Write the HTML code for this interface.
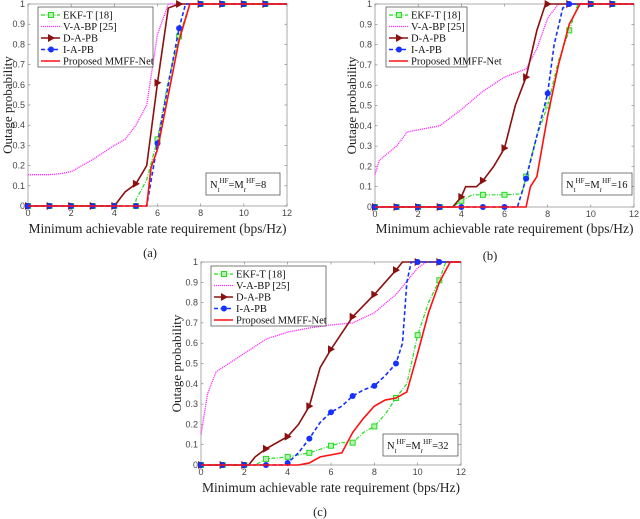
<!DOCTYPE html>
<html><head><meta charset="utf-8">
<style>
body{margin:0;background:#fff;width:640px;height:519px;overflow:hidden}
svg{display:block}
text{font-family:"Liberation Serif",serif}
.tk{font-family:"Liberation Sans",sans-serif;font-size:9px;fill:#444}
</style></head><body>
<svg id="fig" width="640" height="519" viewBox="0 0 640 519"></svg>
<script>
// ---- data ----
const xTicks=[0,2,4,6,8,10,12];
const yTicks=[0,0.1,0.2,0.3,0.4,0.5,0.6,0.7,0.8,0.9,1];
const yTickLabels=["0","0.1","0.2","0.3","0.4","0.5","0.6","0.7","0.8","0.9","1"];
const seriesNames=["EKF-T [18]","V-A-BP [25]","D-A-PB","I-A-PB","Proposed MMFF-Net"];
const markerX=[0,1,2,3,4,5,6,7,8,9,10,11];
const a_ekf=[[0,0],[5,0],[5,0.03],[5.5,0.13],[6,0.33],[6.5,0.62],[7,0.84],[7.5,1],[12,1]];
const a_vabp=[[0,0.155],[1,0.155],[1.5,0.16],[2,0.17],[3,0.23],[4,0.3],[4.5,0.33],[5,0.4],[5.5,0.5],[6,0.85],[6.5,1],[12,1]];
const a_dapb=[[0,0],[4,0],[4.5,0.07],[5,0.11],[5.5,0.2],[6,0.61],[6.5,0.98],[7,1],[12,1]];
const a_iapb=[[0,0],[5.5,0],[6,0.31],[6.5,0.6],[7,0.88],[7.3,1],[12,1]];
const a_mmff=[[0,0],[5.5,0],[5.7,0.19],[6,0.28],[6.5,0.55],[7,0.82],[7.5,1],[12,1]];
const b_ekf=[[0,0],[3.6,0],[4,0.03],[4.5,0.06],[5,0.06],[6,0.06],[6.8,0.065],[7,0.15],[7.5,0.35],[8,0.5],[8.5,0.72],[9,0.87],[9.4,1],[12,1]];
const b_vabp=[[0,0.16],[0.2,0.23],[1,0.3],[1.5,0.37],[2,0.38],[3,0.4],[4,0.48],[5,0.57],[6,0.64],[7,0.68],[7.5,0.78],[8,0.93],[8.5,1],[12,1]];
const b_dapb=[[0,0],[3.6,0],[4,0.05],[4.2,0.1],[4.7,0.1],[5,0.13],[5.5,0.2],[6,0.29],[6.5,0.5],[7,0.64],[7.5,0.87],[7.9,1],[12,1]];
const b_iapb=[[0,0],[6.6,0],[7,0.14],[7.5,0.35],[8,0.56],[8.3,0.8],[8.7,0.98],[9,1],[12,1]];
const b_mmff=[[0,0],[7,0],[7.2,0.1],[7.5,0.15],[8,0.45],[8.5,0.7],[9,0.9],[9.5,1],[12,1]];
const c_ekf=[[0,0],[2.5,0],[3,0.03],[4,0.04],[5,0.06],[6,0.095],[6.5,0.11],[7,0.11],[7.5,0.16],[8,0.19],[8.5,0.25],[9,0.33],[9.5,0.4],[10,0.64],[10.5,0.8],[11,0.91],[11.3,1],[12,1]];
const c_vabp=[[0,0.15],[0.3,0.35],[0.7,0.46],[1,0.48],[2,0.55],[3,0.62],[4,0.655],[5,0.675],[6,0.69],[7,0.7],[8,0.75],[9,0.84],[10,0.97],[10.4,1],[12,1]];
const c_dapb=[[0,0],[2.2,0],[2.5,0.04],[3,0.08],[4,0.14],[4.5,0.2],[5,0.29],[5.5,0.48],[6,0.57],[7,0.73],[8,0.84],[9,0.96],[9.3,1],[12,1]];
const c_iapb=[[0,0],[3.8,0],[4,0.01],[4.5,0.06],[5,0.13],[5.5,0.21],[6,0.26],[6.5,0.29],[7,0.34],[7.5,0.37],[8,0.39],[8.5,0.44],[9,0.5],[9.3,0.6],[9.5,0.9],[9.7,1],[12,1]];
const c_mmff=[[0,0],[4.5,0],[5,0.01],[5.5,0.04],[6,0.05],[6.5,0.06],[7,0.16],[7.5,0.23],[8,0.29],[8.5,0.32],[9,0.33],[9.5,0.36],[10,0.55],[10.5,0.75],[11,0.9],[11.5,1],[12,1]];

const NS="http://www.w3.org/2000/svg";
const svg=document.getElementById('fig');
function mk(t,at,p){const e=document.createElementNS(NS,t);for(const k in at)e.setAttribute(k,at[k]);(p||svg).appendChild(e);return e;}
function interp(s,x){for(let i=1;i<s.length;i++){if(x<=s[i][0]){const a=s[i-1],b=s[i];if(b[0]===a[0])return b[1];return a[1]+(b[1]-a[1])*(x-a[0])/(b[0]-a[0]);}}return s[s.length-1][1];}
const styles=[
 {c:"#22dd22",d:"4,1.5,1,1.5",w:1.2,m:"sq"},
 {c:"#ff33ff",d:"1.2,0.8",w:1.3,m:null},
 {c:"#8b1010",d:"",w:1.6,m:"tri"},
 {c:"#1530ff",d:"4,2.5",w:1.6,m:"cir"},
 {c:"#ff1010",d:"",w:1.6,m:null}];
function marker(g,type,x,y,c){
 if(type==="sq"){const e=mk('rect',{x:x-2.5,y:y-2.5,width:5,height:5,fill:"#b8f0b0",stroke:c,"stroke-width":1},g);}
 else if(type==="tri"){const e=mk('path',{d:`M${x-3},${y-4}L${x+4},${y}L${x-3},${y+4}Z`,fill:c},g);}
 else if(type==="cir"){const e=mk('circle',{cx:x,cy:y,r:3,fill:c},g);}
}
function plot(cfg){
 const {x0,x1,y0,y1,series,id,leg,ann,annText,cap,capY,xtY,ytX}=cfg;
 const sx=v=>x0+(x1-x0)*v/12, sy=v=>y0-(y0-y1)*v;
 const g=mk('g',{});
 
 
 mk('rect',{x:x0,y:y1,width:x1-x0,height:y0-y1,fill:"#fff",stroke:"#888","stroke-width":0.7},g);
 xTicks.forEach(t=>{const X=sx(t);mk('line',{x1:X,y1:y0,x2:X,y2:y0-2.5,stroke:"#777","stroke-width":0.6},g);mk('line',{x1:X,y1:y1,x2:X,y2:y1+2.5,stroke:"#777","stroke-width":0.6},g);
  const tt=mk('text',{x:X,y:y0+10,"text-anchor":"middle",class:"tk"},g);tt.textContent=t;});
 yTicks.forEach((t,i)=>{const Y=sy(t);mk('line',{x1:x0,y1:Y,x2:x0+2.5,y2:Y,stroke:"#777","stroke-width":0.6},g);mk('line',{x1:x1,y1:Y,x2:x1-2.5,y2:Y,stroke:"#777","stroke-width":0.6},g);
  const tt=mk('text',{x:x0-3,y:Y+3,"text-anchor":"end",class:"tk"},g);tt.textContent=yTickLabels[i];});
 series.forEach((s,i)=>{const st=styles[i];
  const p=mk('polyline',{points:s.map(q=>sx(q[0])+","+sy(q[1])).join(" "),fill:"none",stroke:st.c,"stroke-width":st.w,"stroke-dasharray":st.d},g);
  
  
  if(st.m)markerX.forEach(mx=>marker(g,st.m,sx(mx),sy(interp(s,mx)),st.c));});
 const xt=mk('text',{x:(x0+x1)/2,y:xtY,"text-anchor":"middle","font-size":"13.5px",fill:"#222"},g);
 xt.textContent="Minimum achievable rate requirement (bps/Hz)";
 
 const yt=mk('text',{x:0,y:0,"text-anchor":"middle","font-size":"13px",fill:"#222",transform:`translate(${ytX},${(y0+y1)/2}) rotate(-90)`},g);
 yt.textContent="Outage probability";
 
 const lg=mk('g',{},g);
 mk('rect',{x:leg[0],y:leg[1],width:leg[2],height:60,fill:"#fff",stroke:"#444","stroke-width":0.7},lg);
 seriesNames.forEach((n,i)=>{const st=styles[i];const Y=leg[1]+8+i*11.5;const lx=leg[0]+3;
  const le=mk('g',{},lg);
  mk('line',{x1:lx,y1:Y,x2:lx+19,y2:Y,stroke:st.c,"stroke-width":st.w,"stroke-dasharray":st.d},le);
  if(st.m)marker(le,st.m,lx+10,Y,st.c);
  const t=mk('text',{x:lx+22,y:Y+3.5,"font-size":"10.5px",fill:"#111"},le);t.textContent=n;});
 const ab=mk('g',{},g);
 mk('rect',{x:ann[0],y:ann[1],width:ann[2],height:22,fill:"#fff",stroke:"#444","stroke-width":0.7},ab);
 const at=mk('text',{x:ann[0]+4,y:ann[1]+15,"font-size":"10.5px",fill:"#111"},ab);
 at.innerHTML=`N<tspan dy="4" font-size="7">t</tspan><tspan dy="-9" font-size="7">HF</tspan><tspan dy="5">=M</tspan><tspan dy="4" font-size="7">r</tspan><tspan dy="-9" font-size="7">HF</tspan><tspan dy="5">=${annText}</tspan>`;
 const c=mk('text',{x:cap[0],y:capY,"text-anchor":"middle","font-size":"12.5px",fill:"#222"},g);
 c.textContent=cap[1];
}
plot({id:"a",x0:28,x1:287,y0:206,y1:4,series:[a_ekf,a_vabp,a_dapb,a_iapb,a_mmff],leg:[38,7,115],ann:[206,173,74],annText:"8",cap:[150,"(a)"],capY:257,xtY:233,ytX:12});
plot({id:"b",x0:375,x1:634,y0:207,y1:4,series:[b_ekf,b_vabp,b_dapb,b_iapb,b_mmff],leg:[386,7,81],ann:[562,173,70],annText:"16",cap:[490,"(b)"],capY:260,xtY:233,ytX:356});
plot({id:"c",x0:201,x1:461,y0:465,y1:262,series:[c_ekf,c_vabp,c_dapb,c_iapb,c_mmff],leg:[211,266,115],ann:[383,434,75],annText:"32",cap:[320,"(c)"],capY:516,xtY:492,ytX:181});
</script>
</body></html>
